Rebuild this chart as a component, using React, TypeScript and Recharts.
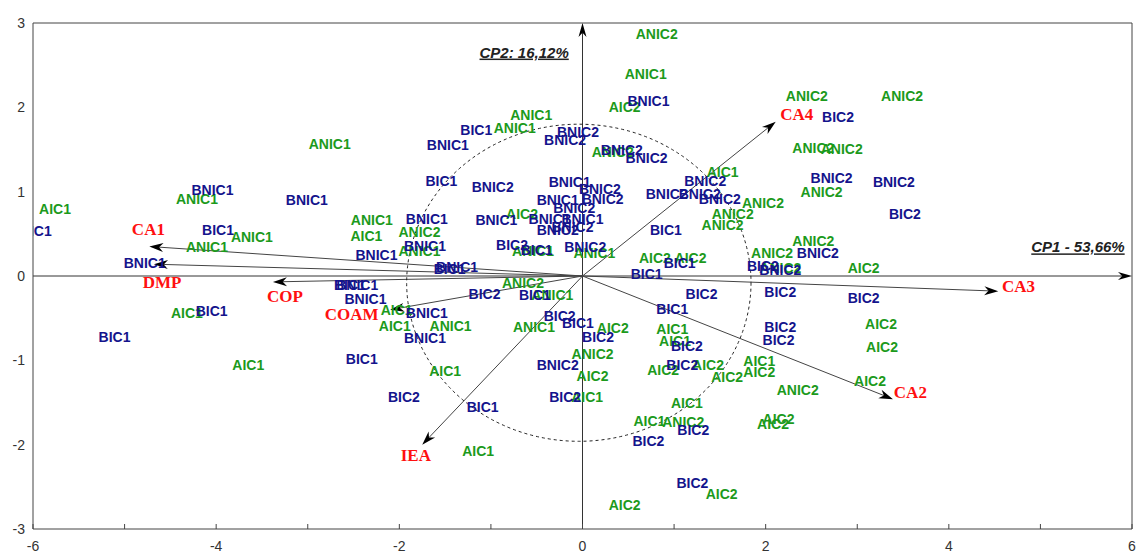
import React from "react";
import { ReferenceDot, ReferenceLine, Scatter, ScatterChart, XAxis, YAxis } from "recharts";

const WIDTH = 1136;
const HEIGHT = 551;
const MARGIN = { top: 23, right: 4, left: 0, bottom: 0 };
const Y_AXIS_W = 33;
const X_AXIS_H = 22;
const PLOT_W = WIDTH - MARGIN.left - MARGIN.right - Y_AXIS_W;
const PLOT_H = HEIGHT - MARGIN.top - MARGIN.bottom - X_AXIS_H;

const GREEN = "#1c9a1c";
const NAVY = "#14148c";
const RED = "#ff1010";
const SANS = "'Liberation Sans', Arial, sans-serif";
const SERIF = "'Liberation Serif', 'Times New Roman', serif";

const xTicks = [-6, -5, -4, -3, -2, -1, 0, 1, 2, 3, 4, 5, 6];
const yTicks = [-3, -2, -1, 0, 1, 2, 3];

// scores on CP1 / CP2, one list per group
const aic1 = [
  [-5.76, 0.79], [-2.36, 0.47], [-4.32, -0.44], [-3.65, -1.05], [-2.03, -0.4],
  [-2.05, -0.59], [-1.5, -1.13], [-1.14, -2.08], [1.53, 1.23], [0.98, -0.63],
  [1.01, -0.77], [1.93, -1.01], [0.05, -1.43], [1.14, -1.5], [0.73, -1.72],
];
const aic2 = [
  [0.46, 2.0], [-0.66, 0.74], [0.79, 0.21], [1.18, 0.21], [3.07, 0.09],
  [0.33, -0.62], [0.88, -1.11], [1.37, -1.06], [1.58, -1.2], [1.93, -1.14],
  [0.11, -1.19], [2.14, -1.7], [2.08, -1.75], [1.52, -2.59], [0.46, -2.71],
  [3.26, -0.57], [3.27, -0.84], [3.14, -1.25],
];
const anic1 = [
  [-4.21, 0.91], [-3.61, 0.46], [-4.1, 0.34], [-2.76, 1.56], [-0.56, 1.91],
  [-0.74, 1.75], [-2.3, 0.66], [-1.78, 0.3], [-0.54, 0.3], [0.69, 2.4],
  [0.13, 0.27], [-0.33, -0.23], [-0.53, -0.6], [-1.44, -0.59],
];
const anic2 = [
  [0.81, 2.87], [2.45, 2.14], [3.49, 2.13], [2.52, 1.52], [2.83, 1.51],
  [2.61, 1.0], [1.97, 0.87], [1.64, 0.73], [1.53, 0.6], [2.52, 0.41],
  [2.07, 0.27], [2.16, 0.09], [0.33, 1.47], [-1.78, 0.52], [-0.65, -0.08],
  [0.11, -0.93], [2.35, -1.35], [1.1, -1.73],
];
const bic1 = [
  [-5.97, 0.53], [-3.98, 0.54], [-1.16, 1.73], [-1.54, 1.13], [-1.45, 0.08],
  [0.91, 0.54], [1.06, 0.15], [0.7, 0.02], [-0.5, 0.31], [-4.05, -0.41],
  [-5.11, -0.72], [-2.54, -0.11], [-2.41, -0.98], [-1.09, -1.55], [-0.52, -0.22],
  [-0.05, -0.56], [0.98, -0.39],
];
const bic2 = [
  [2.79, 1.88], [3.52, 0.74], [1.97, 0.12], [-0.77, 0.37], [-1.07, -0.21],
  [-0.25, -0.47], [1.3, -0.21], [2.16, -0.19], [3.07, -0.26], [2.16, -0.6],
  [2.14, -0.76], [0.17, -0.72], [1.14, -0.83], [1.09, -1.06], [-0.19, -1.43],
  [-1.95, -1.43], [1.21, -1.83], [0.72, -1.96], [1.2, -2.45],
];
const bnic1 = [
  [-4.04, 1.02], [-4.78, 0.15], [-3.01, 0.9], [-1.47, 1.55], [-1.7, 0.68],
  [-1.72, 0.35], [-2.25, 0.25], [-1.37, 0.11], [-0.94, 0.66], [-0.14, 1.11],
  [-0.27, 0.9], [-0.36, 0.67], [0.0, 0.67], [0.72, 2.08], [-2.46, -0.11],
  [-2.37, -0.27], [-1.7, -0.44], [-1.72, -0.73],
];
const bnic2 = [
  [-0.05, 1.71], [-0.19, 1.61], [-0.98, 1.05], [0.19, 1.03], [0.22, 0.91],
  [-0.09, 0.81], [-0.11, 0.58], [-0.27, 0.54], [0.03, 0.34], [0.43, 1.5],
  [0.7, 1.4], [1.34, 1.13], [0.92, 0.97], [1.28, 0.97], [1.5, 0.91],
  [2.72, 1.16], [3.4, 1.11], [2.57, 0.27], [2.16, 0.07], [-0.27, -1.05],
];

// variable loadings (arrow tips) and where their names sit
const variables = ["CA1", "DMP", "COP", "COAM", "IEA", "CA2", "CA3", "CA4"];
const loadX = [-4.73, -4.68, -3.38, -2.1, -1.75, 3.39, 4.54, 2.11];
const loadY = [0.35, 0.14, -0.07, -0.4, -2.0, -1.46, -0.18, 1.83];
const nameX = [-4.74, -4.59, -3.25, -2.52, -1.82, 3.58, 4.76, 2.34];
const nameY = [0.55, -0.08, -0.24, -0.46, -2.13, -1.38, -0.12, 1.92];

const CIRCLE_R = 1.88;

const toPoints = (label: string, rows: number[][]) =>
  rows.map(([x, y]) => ({ x, y, label }));

const varPoints = variables.map((label, i) => ({ x: nameX[i], y: nameY[i], label }));

const labelShape = (color: string, size = 14, family = SANS) => (p: any) => (
  <text
    x={p.cx}
    y={p.cy}
    fill={color}
    fontFamily={family}
    fontWeight="bold"
    fontSize={size}
    textAnchor="middle"
    dominantBaseline="central"
  >
    {p.payload.label}
  </text>
);

const arrowShape = (color: string, len = 14, half = 4.5) => (p: any) => {
  const { x1, y1, x2, y2 } = p;
  const a = Math.atan2(y2 - y1, x2 - x1);
  const c = Math.cos(a);
  const s = Math.sin(a);
  const bx = x2 - len * c;
  const by = y2 - len * s;
  const nx = x2 - len * 0.7 * c;
  const ny = y2 - len * 0.7 * s;
  const pts = `${x2},${y2} ${bx - half * s},${by + half * c} ${nx},${ny} ${bx + half * s},${by - half * c}`;
  return (
    <g>
      <line x1={x1} y1={y1} x2={nx} y2={ny} stroke={color} strokeWidth={1} />
      <polygon points={pts} fill="#000" />
    </g>
  );
};

const axisTitle = (text: string) => (p: any) => (
  <text
    x={p.cx}
    y={p.cy}
    fill="#222"
    fontFamily={SANS}
    fontWeight="bold"
    fontStyle="italic"
    fontSize={15}
    textAnchor="end"
    textDecoration="underline"
  >
    {text}
  </text>
);

const ellipseShape = (p: any) => (
  <ellipse
    cx={p.cx}
    cy={p.cy}
    rx={(CIRCLE_R * PLOT_W) / 12}
    ry={(CIRCLE_R * PLOT_H) / 6}
    fill="none"
    stroke="#222"
    strokeWidth={1}
    strokeDasharray="3 3"
  />
);

const groups = [
  { label: "AIC1", rows: aic1, color: GREEN },
  { label: "AIC2", rows: aic2, color: GREEN },
  { label: "ANIC1", rows: anic1, color: GREEN },
  { label: "ANIC2", rows: anic2, color: GREEN },
  { label: "BIC1", rows: bic1, color: NAVY },
  { label: "BIC2", rows: bic2, color: NAVY },
  { label: "BNIC1", rows: bnic1, color: NAVY },
  { label: "BNIC2", rows: bnic2, color: NAVY },
];

export default function App() {
  const tickStyle = { fill: "#333", fontSize: 14, fontFamily: SANS };
  return (
    <div style={{ position: "absolute", left: 0, top: 0 }}>
      <ScatterChart width={WIDTH} height={HEIGHT} margin={MARGIN}>
        <XAxis
          type="number"
          dataKey="x"
          domain={[-6, 6]}
          ticks={xTicks}
          allowDataOverflow
          height={X_AXIS_H}
          tickSize={-5}
          tickMargin={17}
          tickFormatter={(v: number) => (v % 2 === 0 ? String(v) : "")}
          tick={tickStyle}
          stroke="#444"
        />
        <YAxis
          type="number"
          dataKey="y"
          domain={[-3, 3]}
          ticks={yTicks}
          allowDataOverflow
          width={Y_AXIS_W}
          tickLine={false}
          tickSize={0}
          tickMargin={8}
          tick={tickStyle}
          stroke="#444"
        />
        <ReferenceLine y={3} stroke="#444" />
        <ReferenceLine x={6} stroke="#444" />
        <ReferenceDot x={-0.04} y={-0.08} shape={ellipseShape} />
        {groups.map((g, i) => (
          <Scatter
            key={g.label + i}
            data={toPoints(g.label, g.rows)}
            shape={labelShape(g.color)}
            isAnimationActive={false}
          />
        ))}
        <ReferenceLine
          segment={[{ x: -6, y: 0 }, { x: 6, y: 0 }]}
          shape={arrowShape("#333", 14, 4)}
        />
        <ReferenceLine
          segment={[{ x: 0, y: -3 }, { x: 0, y: 3 }]}
          shape={arrowShape("#333", 14, 4)}
        />
        {variables.map((v, i) => (
          <ReferenceLine
            key={v}
            segment={[{ x: 0, y: 0 }, { x: loadX[i], y: loadY[i] }]}
            shape={arrowShape("#444")}
          />
        ))}
        <Scatter
          data={varPoints}
          shape={labelShape(RED, 17, SERIF)}
          isAnimationActive={false}
        />
        <ReferenceDot x={-0.15} y={2.59} shape={axisTitle("CP2: 16,12%")} />
        <ReferenceDot x={5.92} y={0.28} shape={axisTitle("CP1 - 53,66%")} />
      </ScatterChart>
    </div>
  );
}
